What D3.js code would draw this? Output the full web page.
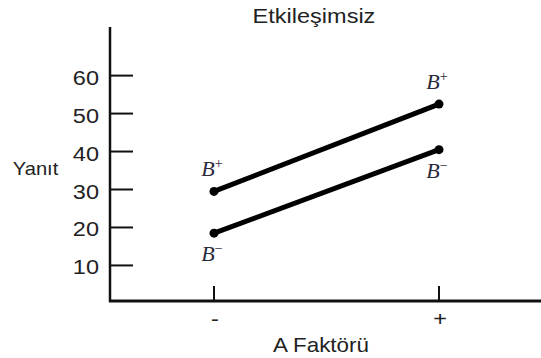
<!DOCTYPE html>
<html><head><meta charset="utf-8">
<script src="https://cdn.jsdelivr.net/npm/d3@7"></script>
<style>body{margin:0;background:#fff}</style>
</head><body><svg id="c" width="541" height="358"></svg>
<script>
const categories = ["-", "+"];
const yTicks = [10, 20, 30, 40, 50, 60];
const seriesNames = ["B+", "B-"];
const bPlus = [29.5, 52.5];
const bMinus = [18.5, 40.5];

const svg = d3.select("#c");
const font = "'Liberation Sans', Arial, sans-serif";
const SX = 1.12;
const y = d3.scaleLinear().domain([0, 60]).range([303.4, 75.6]);
const x = d3.scalePoint().domain(categories).range([214, 439]);

function label(g, tx, ty, txt, size, anchor) {
  return g.append("text")
    .attr("transform", `translate(${tx},${ty}) scale(${SX},1)`)
    .attr("text-anchor", anchor || "middle")
    .attr("font-family", font).attr("font-size", size)
    .attr("fill", "#222").text(txt);
}

// y axis line
svg.append("line").attr("x1", 110).attr("x2", 110).attr("y1", 27).attr("y2", 302)
  .attr("stroke", "#111").attr("stroke-width", 2.5);
// x axis line
svg.append("line").attr("x1", 109).attr("x2", 541).attr("y1", 301).attr("y2", 301)
  .attr("stroke", "#111").attr("stroke-width", 3);

// y ticks
const yg = svg.append("g");
yg.selectAll("line").data(yTicks).join("line")
  .attr("x1", 110).attr("x2", 133).attr("y1", d => y(d)).attr("y2", d => y(d))
  .attr("stroke", "#111").attr("stroke-width", 2);
yTicks.forEach(d => label(yg, 99, y(d) + 9, d, 21, "end"));

// x ticks
const xg = svg.append("g");
xg.selectAll("line").data(categories).join("line")
  .attr("x1", d => x(d)).attr("x2", d => x(d)).attr("y1", 286).attr("y2", 301)
  .attr("stroke", "#111").attr("stroke-width", 2);
categories.forEach(d => label(xg, x(d) + 1, 326, d, 21));

// titles
label(svg, 314, 23, "Etkileşimsiz", 21);
label(svg, 35.5, 175, "Yanıt", 18);
label(svg, 321, 352, "A Faktörü", 20);

// series lines
const series = [
  {name: "B+", vals: bPlus, sup: "+", above: true},
  {name: "B-", vals: bMinus, sup: "\u2212", above: false}
];
const line = d3.line().x((d, i) => x(categories[i])).y(d => y(d));
series.forEach(s => {
  svg.append("path").attr("d", line(s.vals)).attr("fill", "none")
    .attr("stroke", "#000").attr("stroke-width", 5);
  svg.selectAll(null).data(s.vals).join("circle")
    .attr("cx", (d, i) => x(categories[i])).attr("cy", d => y(d)).attr("r", 4.5).attr("fill", "#000");
  s.vals.forEach((v, i) => {
    const t = svg.append("text")
      .attr("x", x(categories[i]) - 2)
      .attr("y", y(v) + (s.above ? -15 : 28))
      .attr("text-anchor", "middle")
      .attr("font-family", "'Liberation Serif', 'Times New Roman', serif")
      .attr("font-style", "italic").attr("font-size", 22).attr("fill", "#2a2a3a");
    t.append("tspan").text("B");
    t.append("tspan").attr("dy", -8).attr("font-size", 14).attr("font-style", "normal").text(s.sup);
  });
});
</script></body></html>
